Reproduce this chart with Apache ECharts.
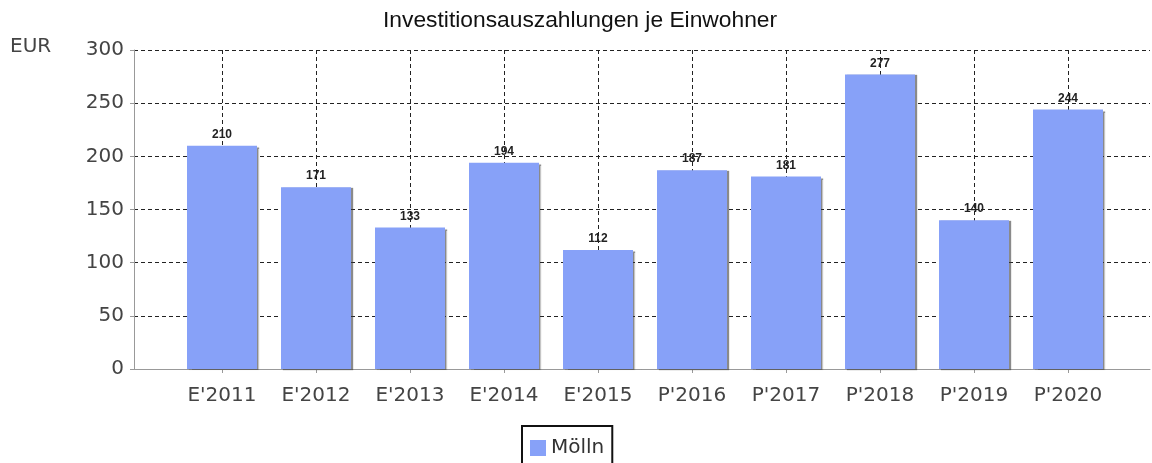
<!DOCTYPE html>
<html style="height: 100%">
<head>
    <meta charset="utf-8">
</head>
<body style="height: 100%; margin: 0; background: #fff">
<div id="chart" style="width: 1152px; height: 463px"></div>
<script src="https://cdn.jsdelivr.net/npm/echarts@6/dist/echarts.min.js"></script>
<script type="text/javascript">
    // Daten
    var jahre = ["E'2011", "E'2012", "E'2013", "E'2014", "E'2015", "P'2016", "P'2017", "P'2018", "P'2019", "P'2020"];
    var werte = [210, 171, 133, 194, 112, 187, 181, 277, 140, 244];
    var serieName = 'Mölln';
    var titel = 'Investitionsauszahlungen je Einwohner';

    var myChart = echarts.init(document.getElementById('chart'));

    var labelFont = 'DejaVu Sans';
    var dashed = {show: true, lineStyle: {color: '#222', width: 1, type: [4, 3]}};

    var option = {
        animation: false,
        backgroundColor: '#fff',
        title: {
            text: titel,
            left: 383,
            top: 9,
            padding: 0,
            textStyle: {fontFamily: 'Liberation Sans', fontSize: 22.8, fontWeight: 'normal', color: '#111'}
        },
        graphic: [{
            type: 'text',
            left: 10,
            top: 37,
            style: {text: 'EUR', fontFamily: labelFont, fontSize: 20, fill: '#444'}
        }],
        legend: {
            data: [serieName],
            left: 522,
            top: 426,
            padding: [12, 8, 12, 8],
            borderColor: '#111',
            borderWidth: 2,
            itemWidth: 16,
            itemHeight: 16,
            icon: 'rect',
            textStyle: {fontFamily: labelFont, fontSize: 20, color: '#333'}
        },
        grid: [
            // Hintergrund mit Y-Achse
            {left: 134, right: 2, top: 50, bottom: 94},
            // Balken
            {left: 175, right: 37, top: 50, bottom: 94}
        ],
        xAxis: [{
            gridIndex: 0,
            type: 'value',
            min: 0,
            max: 1,
            axisLine: {show: true, lineStyle: {color: '#999', width: 1}},
            axisTick: {show: false},
            axisLabel: {show: false},
            splitLine: {show: false}
        }, {
            gridIndex: 1,
            type: 'category',
            data: jahre,
            axisLine: {show: false},
            axisTick: {show: true, alignWithLabel: true, length: 4, lineStyle: {color: '#999'}},
            axisLabel: {margin: 17, fontFamily: labelFont, fontSize: 20, color: '#444'},
            splitLine: {show: true, alignWithLabel: true, lineStyle: {color: '#222', width: 1, type: [4, 3]}}
        }],
        yAxis: [{
            gridIndex: 0,
            type: 'value',
            min: 0,
            max: 300,
            interval: 50,
            axisLine: {show: true, lineStyle: {color: '#999', width: 1}},
            axisTick: {show: true, length: 4, lineStyle: {color: '#999'}},
            axisLabel: {margin: 10, fontFamily: labelFont, fontSize: 20, color: '#444'},
            splitLine: dashed
        }, {
            gridIndex: 1,
            type: 'value',
            min: 0,
            max: 300,
            show: false,
            splitLine: {show: false}
        }],
        series: [{
            name: serieName,
            type: 'bar',
            xAxisIndex: 1,
            yAxisIndex: 1,
            barWidth: 70,
            data: werte,
            itemStyle: {
                color: '#87a1f8',
                shadowColor: 'rgba(60,60,60,0.6)',
                shadowOffsetX: 2,
                shadowOffsetY: 1,
                shadowBlur: 1
            },
            label: {
                show: true,
                position: 'top',
                distance: 5,
                fontFamily: 'Liberation Sans',
                fontSize: 12,
                fontWeight: 'bold',
                color: '#222'
            }
        }]
    };

    myChart.setOption(option);
    window.addEventListener('resize', function () {
        myChart.resize();
    });
</script>
</body>
</html>
